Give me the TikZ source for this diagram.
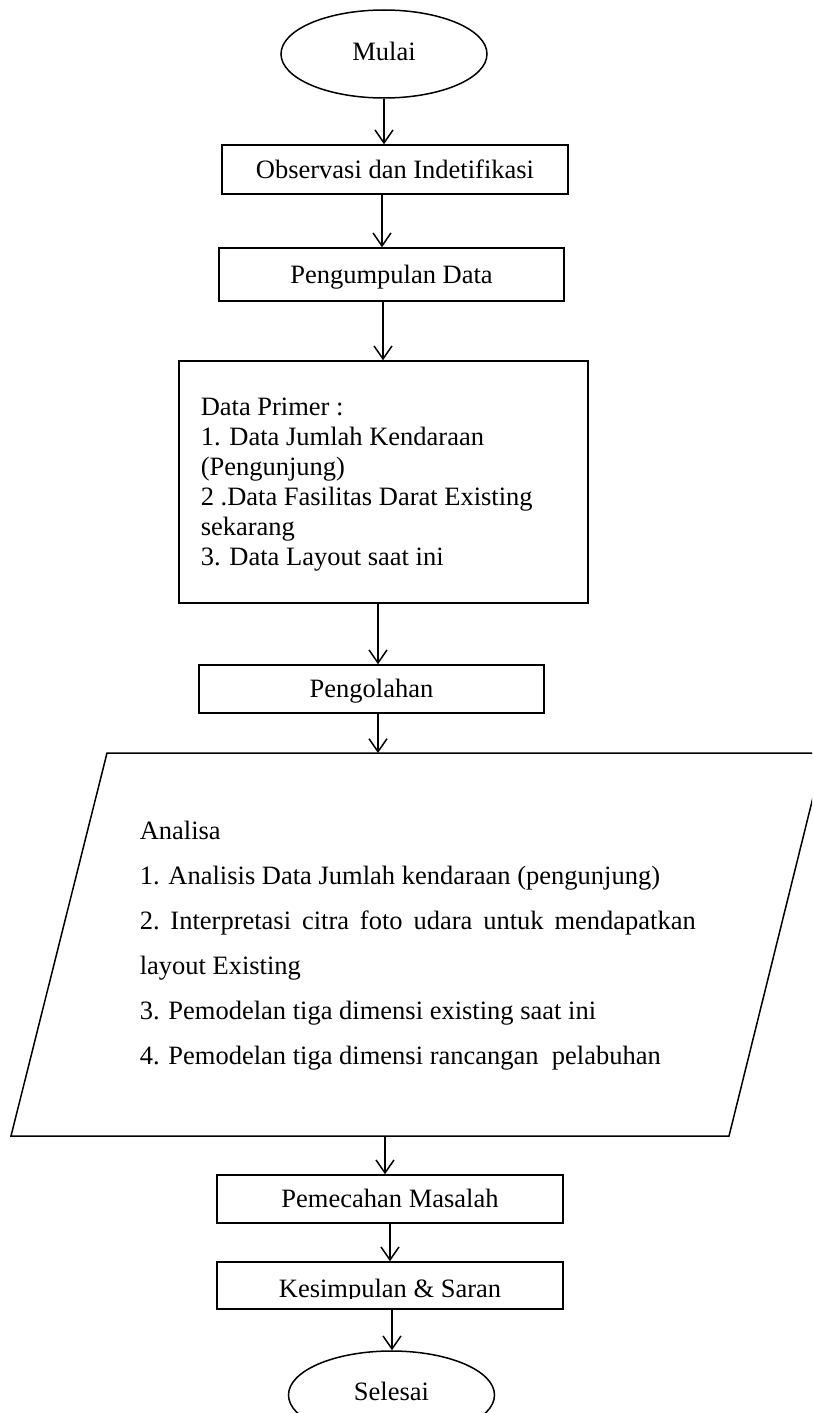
\documentclass[tikz,border=0pt]{standalone}
\usepackage{fontspec}
\setmainfont{Liberation Serif}
\usetikzlibrary{arrows.meta,shapes.geometric,calc}
\newcommand{\fsz}{\fontsize{26.5}{30}\selectfont}
\begin{document}
\begin{tikzpicture}[x=1pt,y=-1pt,
  line width=1.5pt,
  every node/.style={font=\fsz, inner sep=0pt},
  box/.style={draw, rectangle, line width=1.5pt, text height=17.5pt, text depth=0pt},
  oval/.style={draw, ellipse, line width=1.5pt, minimum width=206pt, minimum height=88pt},
  arr/.style={-{Straight Barb[length=13pt,width=18pt]}},
  txt/.style={anchor=base west}]
\useasboundingbox (0,0) rectangle (812,1413);
\clip (0,0) rectangle (812,1413);

% start / end
\node[oval] (mulai) at (384,54) {\raisebox{5pt}{Mulai}};
\node[oval] (selesai) at (391.5,1395) {\raisebox{7pt}{Selesai}};

% boxes
\node[box, minimum width=346pt, minimum height=49pt] (obs) at (395,169.5) {Observasi dan Indetifikasi};
\node[box, minimum width=345pt, minimum height=53pt] (pen) at (391.5,274.5) {Pengumpulan Data};
\node[box, minimum width=409pt, minimum height=242pt] (dp) at (383.5,482) {};
\node[box, minimum width=345pt, minimum height=48pt] (olah) at (371.5,689) {Pengolahan};
\node[box, minimum width=346pt, minimum height=48pt] (pem) at (390,1199) {Pemecahan Masalah};
\node[box, minimum width=346pt, minimum height=47pt] (kes) at (390,1285.5) {};
\begin{scope}
  \clip (kes.north west) rectangle ($(kes.south east)+(0,-11)$);
  \node[anchor=base] (kestext) at ($(kes.south)+(0,-12)$) {Kesimpulan \& Saran};
\end{scope}

% Data Primer text
\node[txt] (dp1) at (200,415) {Data Primer :};
\node[txt] (dp2) at (200,445) {1. Data Jumlah Kendaraan};
\node[txt] (dp3) at (200,475) {(Pengunjung)};
\node[txt] (dp4) at (200,505) {2 .Data Fasilitas Darat Existing};
\node[txt] (dp5) at (200,535) {sekarang};
\node[txt] (dp6) at (200,565) {3. Data Layout saat ini};

% parallelogram
\coordinate (pa) at (107,753);
\coordinate (pb) at (824,753);
\coordinate (pc) at (729,1136);
\coordinate (pd) at (11,1136);
\draw (pa) -- (pb) -- (pc) -- (pd) -- cycle;

\node[txt] (an0) at (139,839) {Analisa};
\node[txt] (an1) at (139,884) {1. Analisis Data Jumlah kendaraan (pengunjung)};
\node[txt] (an2) at (139,929) {\makebox[556pt][s]{2.\ Interpretasi citra foto udara untuk mendapatkan}};
\node[txt] (an3) at (139,974) {layout Existing};
\node[txt] (an4) at (139,1019) {3. Pemodelan tiga dimensi existing saat ini};
\node[txt] (an5) at (139,1064) {4. Pemodelan tiga dimensi rancangan\ \ pelabuhan};

% connectors
\draw[arr] (mulai.south) -- (mulai.south |- obs.north);
\draw[arr] ([xshift=-13pt]obs.south) -- ([xshift=-13pt]obs.south |- pen.north);
\draw[arr] ([xshift=-0.5pt]dp.north |- pen.south) -- ([xshift=-0.5pt]dp.north);
\draw[arr] ([xshift=6.5pt]olah.north |- dp.south) -- ([xshift=6.5pt]olah.north);
\draw[arr] ([xshift=6.5pt]olah.south) -- ([xshift=6.5pt]olah.south |- pa);
\draw[arr] ([xshift=-5pt]pem.north |- pd) -- ([xshift=-5pt]pem.north);
\draw[arr] (pem.south) -- (pem.south |- kes.north);
\draw[arr] ([xshift=0.5pt]selesai.north |- kes.south) -- ([xshift=0.5pt]selesai.north);
\end{tikzpicture}
\end{document}
